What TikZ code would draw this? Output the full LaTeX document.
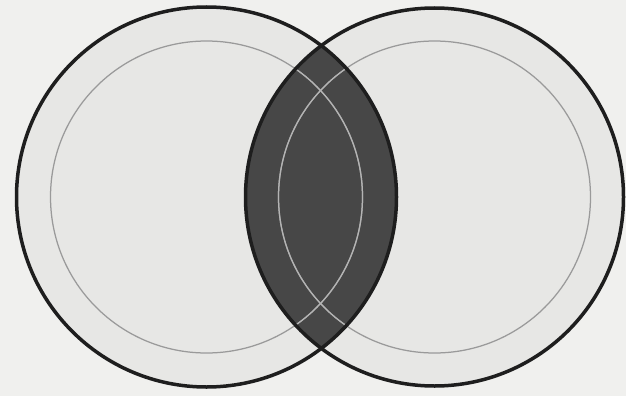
\documentclass[tikz,border=0pt]{standalone}
\usepackage{tikz}
\usetikzlibrary{positioning, backgrounds}

\definecolor{paper}{HTML}{F0F0EE}
\definecolor{disc}{HTML}{E7E7E5}
\definecolor{lens}{HTML}{474747}
\definecolor{rim}{HTML}{1E1E1E}
\definecolor{ring}{HTML}{9A9A9A}
\definecolor{ringlight}{HTML}{B4B4B4}

\begin{document}
\begin{tikzpicture}[
    x=0.4mm, y=-0.4mm,
    outer/.style={draw=rim, line width=1.4mm},
    inner/.style={draw=ring, line width=0.5mm},
    innerlight/.style={draw=ringlight, line width=0.5mm},
]
% canvas
\fill[paper] (0,0) rectangle (626,396);
\useasboundingbox (0,0) rectangle (626,396);

\coordinate (left) at (206.5,197);
\coordinate (right) at (434.5,197);

% discs
\fill[disc] (left) circle (190);
\fill[disc] (right) circle (189);

% overlap
\begin{scope}
    \clip (left) circle (190);
    \fill[lens] (right) circle (189);
\end{scope}

% inner rings
\draw[inner] (left) circle (156);
\draw[inner] (right) circle (156);
\begin{scope}
    \clip (left) circle (190);
    \clip (right) circle (189);
    \draw[innerlight] (left) circle (156);
    \draw[innerlight] (right) circle (156);
\end{scope}

% rims
\draw[outer] (left) circle (190);
\draw[outer] (right) circle (189);
\end{tikzpicture}
\end{document}
